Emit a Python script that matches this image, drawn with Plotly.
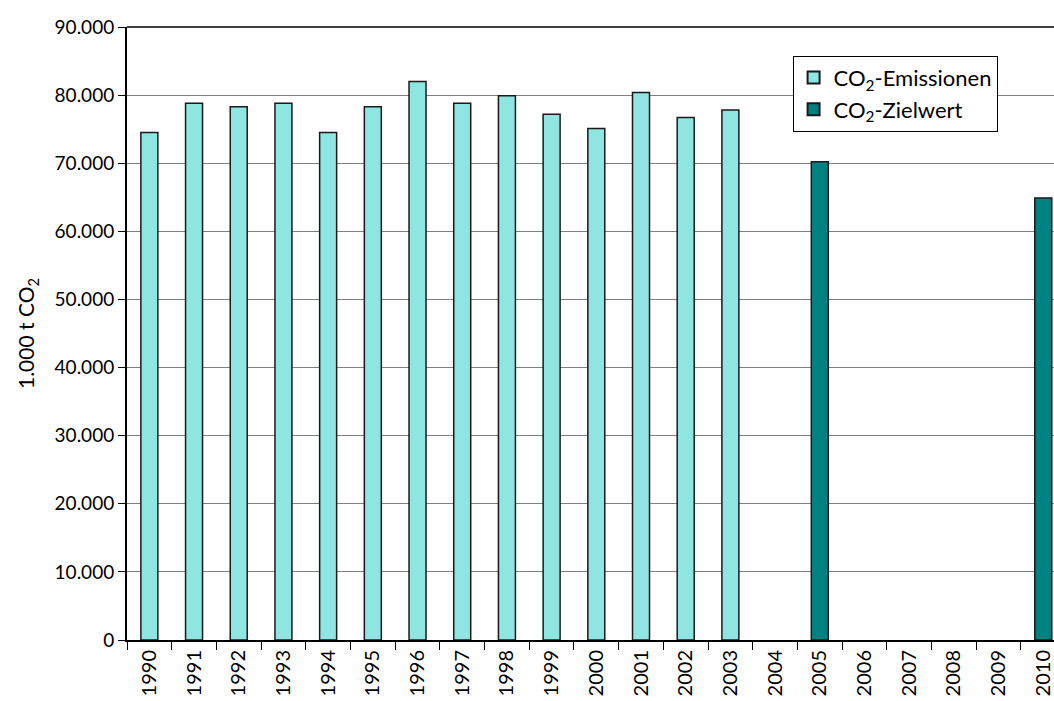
import plotly.graph_objects as go

years = [str(y) for y in range(1990, 2011)]
emis_years = [str(y) for y in range(1990, 2004)]
emis_values = [74500, 78800, 78300, 78800, 74500, 78300, 82000, 78800, 79900,
               77200, 75100, 80400, 76700, 77800]
target_years = ["2005", "2010"]
target_values = [70200, 64900]

FONT = "Lato, Open Sans, sans-serif"

fig = go.Figure()
fig.add_trace(go.Bar(
    x=emis_years, y=emis_values, name="CO<sub>2</sub>-Emissionen",
    marker=dict(color="#8EE5E1", line=dict(color="#1a1a1a", width=1.5)),
    width=0.38,
))
fig.add_trace(go.Bar(
    x=target_years, y=target_values, name="CO<sub>2</sub>-Zielwert",
    marker=dict(color="#008080", line=dict(color="#1a1a1a", width=1.5)),
    width=0.38,
))

fig.update_layout(
    width=1054, height=701,
    margin=dict(l=127, r=0, t=27, b=61),
    paper_bgcolor="white", plot_bgcolor="white",
    separators=",.",
    barmode="overlay",
    font=dict(family=FONT, size=19, color="black"),
    showlegend=True,
    legend=dict(
        x=0.718, y=0.953, xanchor="left", yanchor="top",
        bgcolor="white", bordercolor="black", borderwidth=1,
        font=dict(family=FONT, size=22, color="black"),
        itemsizing="constant", tracegroupgap=0,
    ),
    xaxis=dict(
        type="category", categoryorder="array", categoryarray=years,
        range=[-0.5, 20.24],
        tickangle=-90, ticks="outside", ticklen=8, tickcolor="black",
        tickson="boundaries", tickwidth=1,
        showline=True, linecolor="black", linewidth=2,
        showgrid=False, automargin=False,
        tickfont=dict(family=FONT, size=20),
    ),
    yaxis=dict(
        range=[0, 90000], dtick=10000, tickformat=",d",
        ticks="outside", ticklen=7, tickcolor="black",
        showline=True, linecolor="black", linewidth=2,
        showgrid=True, gridcolor="#808080", gridwidth=1,
        zeroline=False, automargin=False,
        title=dict(text="1.000 t CO<sub>2</sub>", standoff=14,
                   font=dict(family=FONT, size=21)),
        tickfont=dict(family=FONT, size=19),
    ),
    shapes=[dict(type="line", xref="paper", yref="paper", x0=0, x1=1, y0=1, y1=1,
                 line=dict(color="black", width=1.5))],
)

fig.write_html("out.html")
